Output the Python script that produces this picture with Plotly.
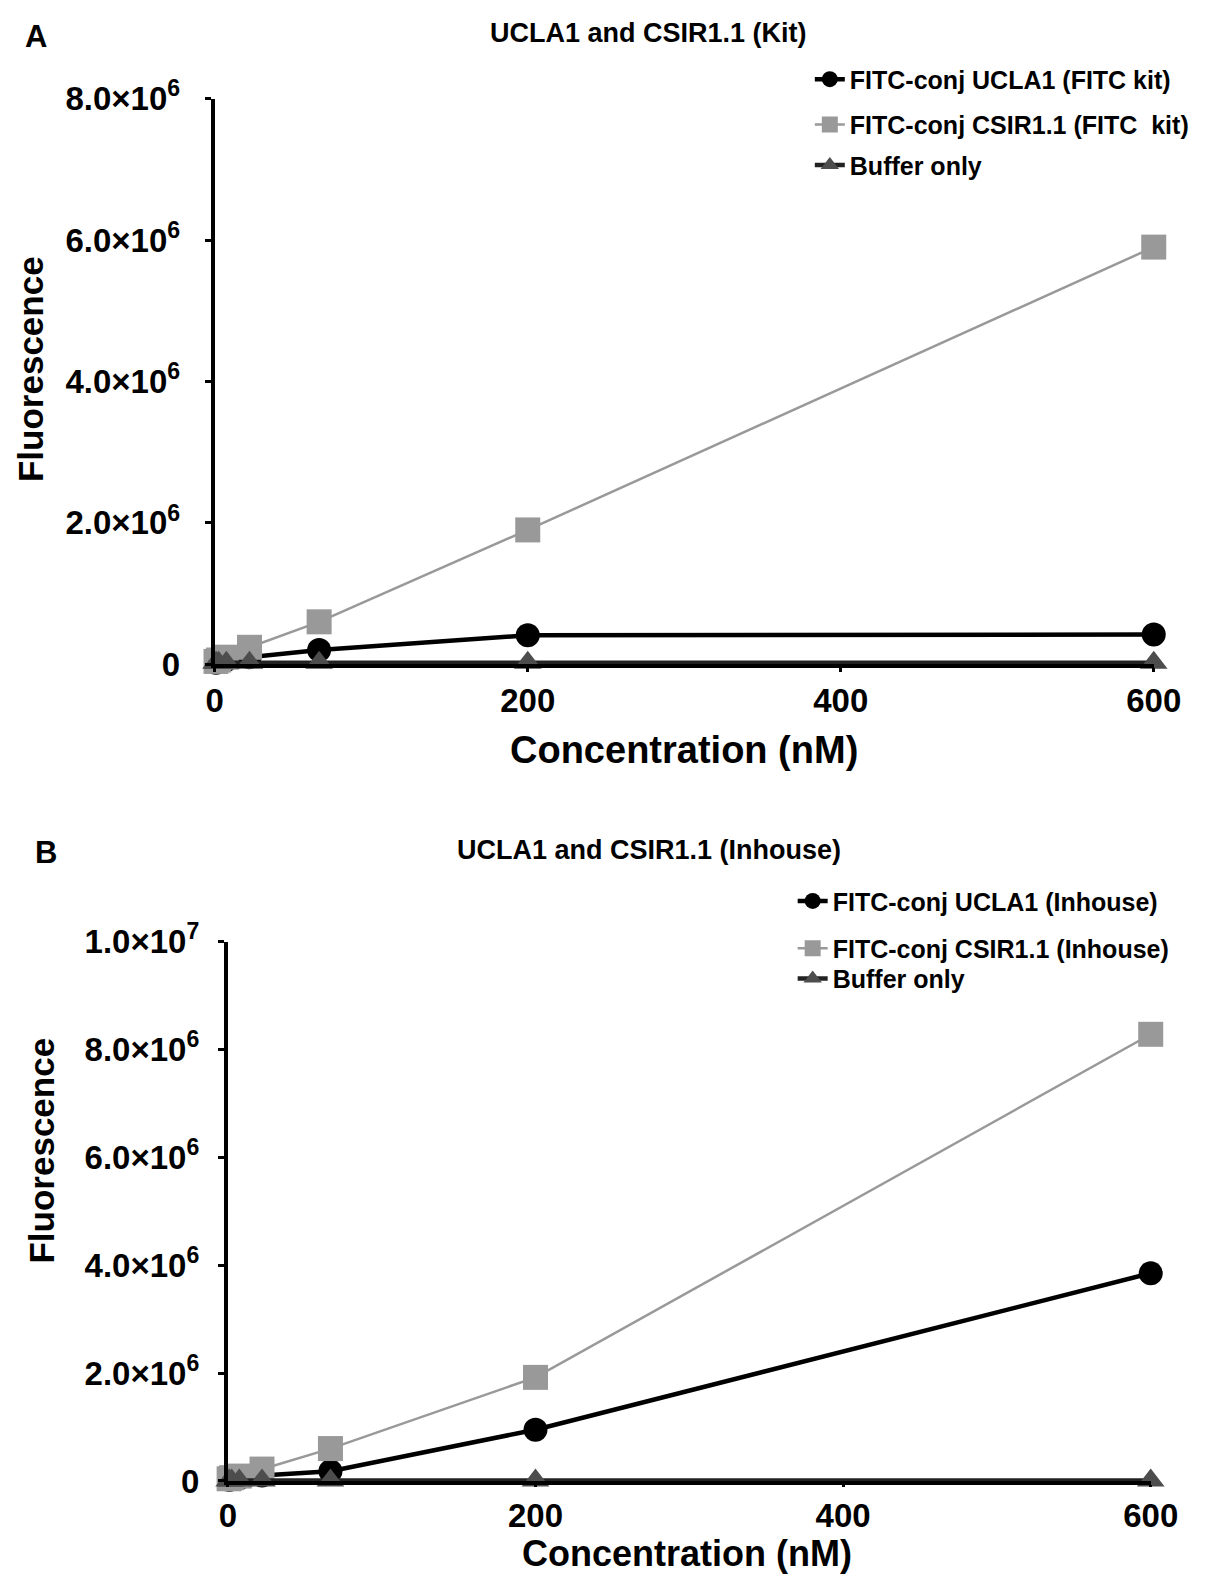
import plotly.graph_objects as go

# ------------------------------------------------------------------
# Data
# ------------------------------------------------------------------
conc_nm = [0.82, 2.47, 7.41, 22.2, 66.7, 200, 600]

# Panel A: FITC kit
kit_ucla1 = [0.02e6, 0.04e6, 0.06e6, 0.10e6, 0.20e6, 0.41e6, 0.42e6]
kit_csir = [0.04e6, 0.06e6, 0.10e6, 0.24e6, 0.60e6, 1.90e6, 5.90e6]
kit_buffer = [0.02e6, 0.02e6, 0.02e6, 0.02e6, 0.02e6, 0.02e6, 0.02e6]

# Panel B: inhouse conjugation
inh_ucla1 = [0.02e6, 0.03e6, 0.05e6, 0.10e6, 0.18e6, 0.95e6, 3.85e6]
inh_csir = [0.04e6, 0.06e6, 0.09e6, 0.22e6, 0.60e6, 1.92e6, 8.28e6]
inh_buffer = [0.01e6, 0.01e6, 0.01e6, 0.01e6, 0.01e6, 0.01e6, 0.01e6]

x_ticks = [0, 200, 400, 600]
yA_ticks = [0, 2e6, 4e6, 6e6, 8e6]
yA_text = ['0', '2.0×10<sup>6</sup>', '4.0×10<sup>6</sup>',
           '6.0×10<sup>6</sup>', '8.0×10<sup>6</sup>']
yB_ticks = [0, 2e6, 4e6, 6e6, 8e6, 1e7]
yB_text = ['0', '2.0×10<sup>6</sup>', '4.0×10<sup>6</sup>',
           '6.0×10<sup>6</sup>', '8.0×10<sup>6</sup>', '1.0×10<sup>7</sup>']

names_A = ['FITC-conj UCLA1 (FITC kit)', 'FITC-conj CSIR1.1 (FITC  kit)',
           'Buffer only']
names_B = ['FITC-conj UCLA1 (Inhouse)', 'FITC-conj CSIR1.1 (Inhouse)',
           'Buffer only']

FONT = 'Liberation Sans'
BLACK = '#000000'
GREY = '#999999'
DARK = '#4d4d4d'

# the photographed page comes out slightly shrunk and shifted; positions
# below are given in reference pixels and mapped back onto the paper
SX, OX = 0.962, 8
SY, OY = 0.966, 22
W = round((1205 - OX) / SX)
H = round((1581 - OY) / SY)


def px(x):
    return ((x - OX) / SX) / W


def py(y):
    return 1 - ((y - OY) / SY) / H


def add_panel(fig, xa, ya, legends, ucla, csir, buf, names):
    common = dict(x=conc_nm, xaxis=xa, yaxis=ya,
                  mode='lines+markers', cliponaxis=False)
    fig.add_trace(go.Scatter(
        y=ucla, name=names[0], legend=legends[0], **common,
        line=dict(color=BLACK, width=4.5),
        marker=dict(symbol='circle', size=24, color=BLACK),
    ))
    fig.add_trace(go.Scatter(
        y=csir, name=names[1], legend=legends[1], **common,
        line=dict(color=GREY, width=2.5),
        marker=dict(symbol='square', size=25, color=GREY),
    ))
    fig.add_trace(go.Scatter(
        y=buf, name=names[2], legend=legends[2], **common,
        line=dict(color='#222222', width=4.5),
        marker=dict(symbol='triangle-up', size=24, color=DARK),
    ))


fig = go.Figure()
add_panel(fig, 'x', 'y', ['legend', 'legend2', 'legend3'],
          kit_ucla1, kit_csir, kit_buffer, names_A)
add_panel(fig, 'x2', 'y2', ['legend4', 'legend5', 'legend6'],
          inh_ucla1, inh_csir, inh_buffer, names_B)

tick_font = dict(family=FONT, size=33, color=BLACK, weight='bold')
axis_common = dict(showline=True, linecolor=BLACK, linewidth=4,
                   showgrid=False, zeroline=False, ticks='outside',
                   tickwidth=3, tickcolor=BLACK, tickfont=tick_font)

legend_font = dict(family=FONT, size=25, color=BLACK, weight='bold')
# legend rows: (symbol centre x, row centre y) in reference pixels
legend_rows = [(824, 78), (824, 123), (824, 163),
               (807, 893), (807, 940), (807, 970)]
legend_layout = {}
for i, (lx, ly) in enumerate(legend_rows):
    key = 'legend' if i == 0 else f'legend{i + 1}'
    legend_layout[key] = dict(x=px(lx - 22), y=py(ly), xanchor='left',
                              yanchor='middle', font=legend_font,
                              bgcolor='rgba(0,0,0,0)', itemwidth=30)

fig.update_layout(
    width=W, height=H,
    margin=dict(l=0, r=0, t=0, b=0),
    plot_bgcolor='white', paper_bgcolor='white',
    font=dict(family=FONT, color=BLACK),
    xaxis=dict(domain=[px(212), px(1143)], range=[0, 600], anchor='y',
               tickvals=x_ticks, ticklen=4, **axis_common),
    yaxis=dict(domain=[py(658), py(97)], range=[0, 8e6], anchor='x',
               tickvals=yA_ticks, ticktext=yA_text, ticklabelstandoff=18,
               ticklen=6, **axis_common),
    xaxis2=dict(domain=[px(225), px(1140)], range=[0, 600], anchor='y2',
                tickvals=x_ticks, ticklen=2, **axis_common),
    yaxis2=dict(domain=[py(1468), py(933)], range=[0, 1e7], anchor='x2',
                tickvals=yB_ticks, ticktext=yB_text, ticklabelstandoff=12,
                ticklen=6, **axis_common),
    showlegend=True,
    **legend_layout,
)

annotations = [
    dict(text='A', x=35, y=35, size=31),
    dict(text='UCLA1 and CSIR1.1 (Kit)', x=642, y=32, size=27),
    dict(text='Concentration (nM)', x=677, y=743, size=38),
    dict(text='B', x=45, y=845, size=31),
    dict(text='UCLA1 and CSIR1.1 (Inhouse)', x=643, y=842, size=27),
    dict(text='Concentration (nM)', x=680, y=1540, size=36),
]
for a in annotations:
    fig.add_annotation(text=a['text'], x=px(a['x']), y=py(a['y']),
                       xref='paper', yref='paper', showarrow=False,
                       xanchor='center', yanchor='middle',
                       font=dict(family=FONT, size=a['size'], color=BLACK,
                                 weight='bold'))

for xpos, ypos in [(30, 365), (40, 1140)]:
    fig.add_annotation(text='Fluorescence', x=px(xpos), y=py(ypos),
                       xref='paper', yref='paper', showarrow=False,
                       textangle=-90, xanchor='center', yanchor='middle',
                       font=dict(family=FONT, size=35, color=BLACK,
                                 weight='bold'))

fig.write_html(
    'out.html',
    config={'displayModeBar': False},
    post_script="document.body.style.margin='0';"
                "document.body.style.overflow='hidden';",
)
